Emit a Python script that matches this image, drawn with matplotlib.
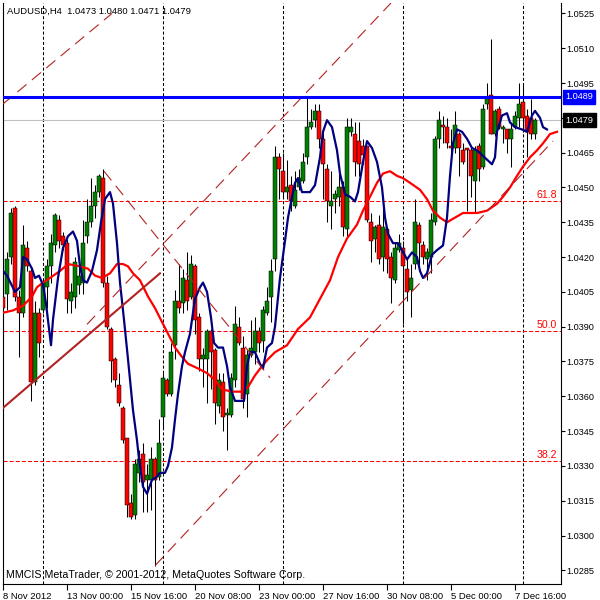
import matplotlib.pyplot as plt

plt.rcParams['font.family'] = ['Liberation Sans', 'DejaVu Sans']
plt.rcParams['lines.scale_dashes'] = False

# ---- chart data (AUDUSD H4) ----
title_text = "AUDUSD,H4  1.0473 1.0480 1.0471 1.0479"
copyright_text = "MMCIS MetaTrader, \u00a9 2001-2012, MetaQuotes Software Corp."

opens = [1.0403, 1.0404, 1.0420, 1.0441, 1.0403, 1.0396, 1.0424, 1.0414, 1.0366, 1.0396,
         1.0397, 1.0407, 1.0416, 1.0425, 1.0436, 1.0429, 1.0426, 1.0401, 1.0403, 1.0408,
         1.0409, 1.0429, 1.0435, 1.0442, 1.0448, 1.0454, 1.0409, 1.0389, 1.0376, 1.0365,
         1.0355, 1.0342, 1.0314, 1.0309, 1.0327, 1.0335, 1.0324, 1.0324, 1.0333, 1.0325,
         1.0351, 1.0367, 1.0361, 1.0382, 1.0401, 1.0400, 1.0410, 1.0403, 1.0416, 1.0394,
         1.0376, 1.0376, 1.0388, 1.0380, 1.0356, 1.0366, 1.0352, 1.0352, 1.0367, 1.0390,
         1.0381, 1.0361, 1.0378, 1.0379, 1.0388, 1.0384, 1.0396, 1.0403, 1.0419, 1.0463,
         1.0457, 1.0448, 1.0451, 1.0442, 1.0450, 1.0453, 1.0463, 1.0476, 1.0479, 1.0483,
         1.0471, 1.0458, 1.0442, 1.0445, 1.0446, 1.0450, 1.0432, 1.0474, 1.0473, 1.0470,
         1.0468, 1.0468, 1.0435, 1.0428, 1.0434, 1.0420, 1.0432, 1.0420, 1.0410, 1.0423,
         1.0424, 1.0415, 1.0406, 1.0417, 1.0434, 1.0425, 1.0419, 1.0420, 1.0435, 1.0471,
         1.0477, 1.0476, 1.0468, 1.0467, 1.0473, 1.0466, 1.0467, 1.0466, 1.0453, 1.0468,
         1.0459, 1.0486, 1.0490, 1.0473, 1.0484, 1.0475, 1.0475, 1.0471, 1.0476, 1.0480,
         1.0487, 1.0481, 1.0480, 1.0473]
highs = [1.0422, 1.0422, 1.0441, 1.0442, 1.0406, 1.0434, 1.0427, 1.0416, 1.0401, 1.0398,
         1.0410, 1.0419, 1.0430, 1.0439, 1.0438, 1.0431, 1.0428, 1.0409, 1.0420, 1.0417,
         1.0436, 1.0445, 1.0454, 1.0451, 1.0456, 1.0458, 1.0412, 1.0390, 1.0377, 1.0370,
         1.0356, 1.0342, 1.0318, 1.0333, 1.0337, 1.0340, 1.0331, 1.0338, 1.0334, 1.0350,
         1.0370, 1.0368, 1.0383, 1.0406, 1.0417, 1.0415, 1.0422, 1.0421, 1.0417, 1.0396,
         1.0381, 1.0389, 1.0389, 1.0381, 1.0370, 1.0370, 1.0355, 1.0370, 1.0399, 1.0394,
         1.0386, 1.0380, 1.0393, 1.0394, 1.0390, 1.0399, 1.0407, 1.0419, 1.0468, 1.0465,
         1.0465, 1.0462, 1.0455, 1.0457, 1.0458, 1.0465, 1.0489, 1.0484, 1.0486, 1.0486,
         1.0475, 1.0460, 1.0457, 1.0449, 1.0456, 1.0453, 1.0480, 1.0480, 1.0478, 1.0478,
         1.0471, 1.0468, 1.0439, 1.0434, 1.0438, 1.0446, 1.0433, 1.0422, 1.0426, 1.0430,
         1.0427, 1.0419, 1.0417, 1.0445, 1.0435, 1.0427, 1.0424, 1.0439, 1.0472, 1.0483,
         1.0481, 1.0480, 1.0475, 1.0483, 1.0474, 1.0469, 1.0467, 1.0467, 1.0468, 1.0469,
         1.0486, 1.0495, 1.0514, 1.0484, 1.0485, 1.0477, 1.0475, 1.0478, 1.0483, 1.0495,
         1.0495, 1.0484, 1.0488, 1.0480]
lows = [1.0396, 1.0397, 1.0417, 1.0401, 1.0377, 1.0394, 1.0414, 1.0358, 1.0365, 1.0377,
        1.0396, 1.0398, 1.0409, 1.0422, 1.0424, 1.0423, 1.0396, 1.0396, 1.0398, 1.0404,
        1.0404, 1.0426, 1.0433, 1.0437, 1.0446, 1.0407, 1.0389, 1.0366, 1.0364, 1.0356,
        1.0340, 1.0308, 1.0307, 1.0307, 1.0323, 1.0310, 1.0310, 1.0311, 1.0287, 1.0324,
        1.0346, 1.0360, 1.0360, 1.0376, 1.0396, 1.0396, 1.0397, 1.0402, 1.0387, 1.0371,
        1.0364, 1.0357, 1.0363, 1.0348, 1.0353, 1.0345, 1.0337, 1.0351, 1.0364, 1.0382,
        1.0355, 1.0351, 1.0377, 1.0374, 1.0379, 1.0379, 1.0395, 1.0392, 1.0414, 1.0445,
        1.0445, 1.0445, 1.0440, 1.0441, 1.0449, 1.0452, 1.0460, 1.0475, 1.0476, 1.0467,
        1.0445, 1.0435, 1.0432, 1.0439, 1.0442, 1.0429, 1.0429, 1.0472, 1.0455, 1.0455,
        1.0460, 1.0435, 1.0418, 1.0422, 1.0417, 1.0414, 1.0413, 1.0400, 1.0409, 1.0422,
        1.0391, 1.0401, 1.0394, 1.0415, 1.0415, 1.0417, 1.0410, 1.0413, 1.0434, 1.0467,
        1.0469, 1.0467, 1.0465, 1.0465, 1.0455, 1.0460, 1.0440, 1.0446, 1.0439, 1.0453,
        1.0458, 1.0484, 1.0473, 1.0472, 1.0475, 1.0469, 1.0465, 1.0459, 1.0475, 1.0476,
        1.0474, 1.0463, 1.0471, 1.0471]
closes = [1.0398, 1.0419, 1.0439, 1.0403, 1.0396, 1.0425, 1.0416, 1.0366, 1.0396, 1.0383,
          1.0409, 1.0416, 1.0426, 1.0438, 1.0427, 1.0425, 1.0402, 1.0405, 1.0418, 1.0412,
          1.0426, 1.0435, 1.0442, 1.0448, 1.0455, 1.0409, 1.0390, 1.0375, 1.0367, 1.0357,
          1.0341, 1.0313, 1.0308, 1.0331, 1.0333, 1.0323, 1.0326, 1.0333, 1.0324, 1.0340,
          1.0368, 1.0361, 1.0379, 1.0401, 1.0398, 1.0411, 1.0401, 1.0417, 1.0393, 1.0376,
          1.0378, 1.0388, 1.0379, 1.0357, 1.0367, 1.0351, 1.0353, 1.0368, 1.0391, 1.0383,
          1.0359, 1.0378, 1.0381, 1.0388, 1.0383, 1.0397, 1.0401, 1.0414, 1.0463, 1.0458,
          1.0448, 1.0450, 1.0444, 1.0449, 1.0454, 1.0461, 1.0476, 1.0478, 1.0483, 1.0471,
          1.0460, 1.0444, 1.0444, 1.0447, 1.0450, 1.0433, 1.0476, 1.0476, 1.0461, 1.0460,
          1.0464, 1.0436, 1.0427, 1.0433, 1.0419, 1.0433, 1.0419, 1.0411, 1.0424, 1.0426,
          1.0416, 1.0405, 1.0411, 1.0435, 1.0426, 1.0420, 1.0422, 1.0436, 1.0471, 1.0479,
          1.0476, 1.0469, 1.0467, 1.0477, 1.0467, 1.0461, 1.0466, 1.0455, 1.0466, 1.0458,
          1.0484, 1.0489, 1.0473, 1.0483, 1.0476, 1.0476, 1.0471, 1.0475, 1.0481, 1.0486,
          1.0480, 1.0474, 1.0473, 1.0479]

# fast moving average (blue), shifted forward
fast_ma_pos = [0, 1, 3, 4.25, 5, 6, 7.25, 8, 9, 10,
               10.75, 11.5, 12, 12.5, 13.75, 15, 16.25, 17.5, 18.5, 19.25,
               20, 21, 22.25, 23.5, 24.5, 25.5, 26.75, 27.5, 28.5, 29.25,
               30.25, 31.25, 32.5, 33.5, 34, 35, 36, 37.25, 38.25, 39.25,
               40.5, 41.25, 42.25, 43, 43.75, 44.75, 45.5, 46.75, 48, 49.25,
               50, 51, 52, 52.75, 53.75, 55, 56, 56.75, 58, 59.25,
               60.25, 61, 61.75, 63, 64.25, 65, 66, 67.25, 68, 69.25,
               70.5, 71.25, 72.25, 73, 73.75, 74.75, 75.5, 76.75, 78, 79.25,
               80, 81, 82.25, 83.5, 84.25, 85.5, 86.75, 88, 88.75, 90,
               91, 92.25, 93.5, 94.75, 95.5, 96.25, 97.5, 98.75, 99.75, 101,
               102.25, 103.5, 104.25, 105, 106, 107.25, 108.5, 110, 111, 111.75,
               112.5, 113.5, 114.75, 116, 117.25, 118.5, 119.75, 121, 122.25, 123,
               123.5, 124.75, 126, 126.75, 128, 129.75, 131, 132.25, 133, 134.25,
               135, 136]
fast_ma = [1.0414, 1.0412, 1.0405, 1.0407, 1.0420, 1.0419, 1.0415, 1.0411, 1.0412, 1.0408,
           1.0400, 1.0389, 1.0382, 1.0393, 1.0411, 1.0424, 1.0429, 1.0431, 1.0427, 1.0416,
           1.0410, 1.0409, 1.0414, 1.0423, 1.0435, 1.0445, 1.0448, 1.0443, 1.0426, 1.0409,
           1.0393, 1.0376, 1.0354, 1.0341, 1.0333, 1.0321, 1.0318, 1.0324, 1.0325, 1.0327,
           1.0327, 1.0330, 1.0338, 1.0350, 1.0361, 1.0373, 1.0379, 1.0387, 1.0402, 1.0407,
           1.0409, 1.0405, 1.0394, 1.0383, 1.0381, 1.0381, 1.0373, 1.0364, 1.0358, 1.0358,
           1.0358, 1.0373, 1.0379, 1.0379, 1.0374, 1.0372, 1.0381, 1.0383, 1.0390, 1.0411,
           1.0427, 1.0437, 1.0446, 1.0452, 1.0454, 1.0448, 1.0448, 1.0448, 1.0451, 1.0463,
           1.0474, 1.0479, 1.0476, 1.0466, 1.0456, 1.0447, 1.0446, 1.0444, 1.0448, 1.0461,
           1.0470, 1.0467, 1.0461, 1.0450, 1.0437, 1.0430, 1.0426, 1.0426, 1.0423, 1.0419,
           1.0422, 1.0420, 1.0414, 1.0411, 1.0413, 1.0421, 1.0423, 1.0425, 1.0437, 1.0455,
           1.0469, 1.0475, 1.0474, 1.0471, 1.0467, 1.0466, 1.0464, 1.0462, 1.0460, 1.0463,
           1.0474, 1.0481, 1.0482, 1.0478, 1.0476, 1.0475, 1.0474, 1.0481, 1.0483, 1.0480,
           1.0476, 1.0475]

# slow moving average (red), shifted forward
slow_ma_pos = [0, 2.5, 5, 7.25, 8.5, 10, 11.75, 14.25, 16.25, 19.25,
               21.25, 23, 24.75, 26.75, 28.5, 30, 31.25, 32.5, 34.25, 36.25,
               38, 39.75, 41.25, 43, 44.75, 46.25, 48.75, 51, 53, 54.75,
               57.25, 59.75, 61.25, 63, 64.75, 66.25, 68, 71, 73.75, 76.75,
               79.25, 81.75, 83.75, 86, 88.5, 90, 91.75, 93.5, 95, 96.75,
               98.5, 100, 101.75, 104.25, 106, 107.5, 109.25, 111, 113, 115,
               118.5, 121, 123.5, 125, 126.75, 128.5, 130, 131.75, 133.5, 135,
               136.75, 138.5]
slow_ma = [1.0396, 1.0397, 1.0399, 1.0403, 1.0407, 1.0409, 1.0411, 1.0414, 1.0417, 1.0416,
           1.0415, 1.0412, 1.0411, 1.0413, 1.0417, 1.0417, 1.0416, 1.0413, 1.0410, 1.0403,
           1.0398, 1.0392, 1.0387, 1.0381, 1.0377, 1.0374, 1.0372, 1.0370, 1.0367, 1.0363,
           1.0362, 1.0362, 1.0364, 1.0369, 1.0373, 1.0376, 1.0379, 1.0382, 1.0389, 1.0394,
           1.0402, 1.0410, 1.0420, 1.0428, 1.0434, 1.0440, 1.0446, 1.0452, 1.0456, 1.0457,
           1.0455, 1.0454, 1.0452, 1.0449, 1.0445, 1.0440, 1.0437, 1.0435, 1.0437, 1.0439,
           1.0439, 1.0440, 1.0443, 1.0446, 1.0450, 1.0455, 1.0459, 1.0463, 1.0466, 1.0469,
           1.0473, 1.0474]

# drawn objects: (start bar, start price, end bar, end price)
trend_solid = (0, 1.0355, 39.25, 1.0413)
channel_lower = (38, 1.0287, 137.5, 1.0470)
channel_upper = (21, 1.0391, 97, 1.05295)
channel_top = (0, 1.0486, 27.25, 1.0525)
line_down = (25.25, 1.0457, 66.75, 1.0368)

resistance_price = 1.0489
bid_price = 1.0479
fib_labels = ["38.2", "50.0", "61.8"]
fib_prices = [1.0332, 1.0388, 1.0444]

date_labels = ["8 Nov 2012", "13 Nov 00:00", "15 Nov 16:00", "20 Nov 08:00",
               "23 Nov 00:00", "27 Nov 16:00", "30 Nov 08:00", "5 Dec 00:00",
               "7 Dec 16:00"]
date_label_bars = [0, 16, 32, 48, 64, 80, 96, 112, 128]
grid_bars = [10, 40, 70, 100, 130]
price_ticks = [1.0285, 1.0300, 1.0315, 1.0330, 1.0345, 1.0360, 1.0375, 1.0390, 1.0405,
               1.0420, 1.0435, 1.0450, 1.0465, 1.0480, 1.0495, 1.0510, 1.0525]

# ---- figure ----
fig = plt.figure(figsize=(6, 6), dpi=100)
ax = fig.add_axes([3 / 600, 16 / 600, 558 / 600, 581 / 600])
ax.set_xlim(0, 139.5)
ax.set_ylim(1.02791, 1.05295)

for gb in grid_bars:
    ax.axvline(gb, color='black', lw=0.75, ls=(0, (2.2, 1.5)), zorder=1)

for fp in fib_prices:
    ax.axhline(fp, color='#FF0000', lw=0.75, ls=(0, (2.9, 1.5)), zorder=2)
for fl, fp in zip(fib_labels, fib_prices):
    ax.annotate(fl, xy=(0.993, fp), xycoords=('axes fraction', 'data'),
                xytext=(0, 1), textcoords='offset points',
                ha='right', va='bottom', color='#FF0000', fontsize=7.6)

ax.axhline(bid_price, color='#C0C0C0', lw=0.8, zorder=2)

# candles
xs = list(range(len(opens)))
ax.vlines(xs, lows, highs, color='black', lw=0.75, zorder=3)
bottoms = [min(o, c) for o, c in zip(opens, closes)]
heights = [max(abs(c - o), 0.00003) for o, c in zip(opens, closes)]
colors = ['#008000' if c >= o else '#FF0000' for o, c in zip(opens, closes)]
ax.bar(xs, heights, bottom=bottoms, width=0.78, color=colors,
       edgecolor='black', linewidth=0.35, zorder=4)

# moving averages
ax.plot(slow_ma_pos, slow_ma, color='#FF0000', lw=1.6, zorder=5)
ax.plot(fast_ma_pos, fast_ma, color='#000080', lw=1.6, zorder=5)

# objects
x0, y0, x1, y1 = trend_solid
ax.plot([x0, x1], [y0, y1], color='#B22222', lw=1.5, zorder=6)
for seg in (channel_lower, channel_upper, channel_top, line_down):
    x0, y0, x1, y1 = seg
    ax.plot([x0, x1], [y0, y1], color='#B22222', lw=0.8,
            ls=(0, (8.5, 5.0)), zorder=6)

ax.axhline(resistance_price, color='#0000FF', lw=2.2, zorder=6)

# axes styling
for side in ('left', 'right', 'bottom'):
    ax.spines[side].set_color('black')
    ax.spines[side].set_linewidth(0.8)
ax.spines['top'].set_visible(False)
ax.yaxis.tick_right()
ax.set_yticks(price_ticks)
ax.set_yticklabels([f"{p:.4f}" for p in price_ticks])
ax.tick_params(axis='y', direction='out', length=3, width=0.8, pad=1.2,
               labelsize=6.6, colors='black')
ax.set_xticks(date_label_bars)
ax.set_xticklabels(date_labels, ha='left')
ax.tick_params(axis='x', direction='out', length=4, width=0.8, pad=1.5,
               labelsize=6.8, colors='black')

# price tags on the right scale
ax.annotate(f"{resistance_price:.4f}", xy=(1, resistance_price),
            xycoords=('axes fraction', 'data'), xytext=(3.2, 0),
            textcoords='offset points', ha='left', va='center', fontsize=6.6,
            color='white', annotation_clip=False,
            bbox=dict(boxstyle='square,pad=0.25', fc='#0000FF', ec='#0000FF'))
ax.annotate(f"{bid_price:.4f}", xy=(1, bid_price),
            xycoords=('axes fraction', 'data'), xytext=(3.2, 0),
            textcoords='offset points', ha='left', va='center', fontsize=6.6,
            color='white', annotation_clip=False,
            bbox=dict(boxstyle='square,pad=0.25', fc='black', ec='black'))

ax.text(0.007, 0.986, title_text, transform=ax.transAxes, ha='left',
        va='center', fontsize=6.8, color='black')
ax.text(0.005, 0.0155, copyright_text, transform=ax.transAxes, ha='left',
        va='center', fontsize=7.7, color='black')

fig.savefig('out.png', dpi=100)
